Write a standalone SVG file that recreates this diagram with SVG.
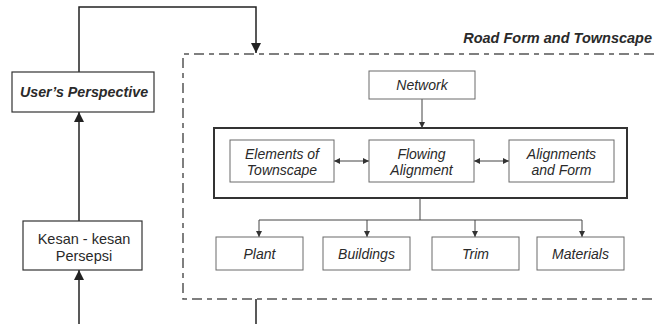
<svg xmlns="http://www.w3.org/2000/svg" width="654" height="324" viewBox="0 0 654 324">
<defs>
<marker id="big" viewBox="0 0 10 10" refX="10" refY="5" markerWidth="10" markerHeight="10" markerUnits="userSpaceOnUse" orient="auto"><path d="M0,0 L10,5 L0,10 z" fill="#222"/></marker>
<marker id="sm" viewBox="0 0 10 10" refX="10" refY="5" markerWidth="6" markerHeight="6" markerUnits="userSpaceOnUse" orient="auto-start-reverse"><path d="M0,0 L10,5 L0,10 z" fill="#333"/></marker>
</defs>
<style>
text{font-family:"Liberation Sans",Arial,sans-serif;fill:#2a2a2a;text-anchor:middle}
.it{font-style:italic;font-size:14px}
.box{fill:#fff;stroke:#6a6a6a;stroke-width:1}
.main{fill:#fff;stroke:#333;stroke-width:1.2}
.thick{fill:none;stroke:#333;stroke-width:2}
.dash{fill:none;stroke:#555;stroke-width:1.5;stroke-dasharray:10 5 5 5}
.big{fill:none;stroke:#222;stroke-width:1.5}
.thin{fill:none;stroke:#444;stroke-width:1}
</style>
<g id="frame">
<path class="dash" d="M654,54 H183 V299 H654"/>
<text x="652" y="43" style="font-weight:bold;font-style:italic;font-size:14.5px;text-anchor:end">Road Form and Townscape</text>
<rect class="thick" x="214" y="128" width="413" height="70"/>
</g>
<g id="connectors">
<path class="big" d="M79,72 V7 H256 V53" marker-end="url(#big)"/>
<path class="big" d="M79,221 V112" marker-end="url(#big)"/>
<path class="big" d="M79,324 V270" marker-end="url(#big)"/>
<path class="big" d="M256,299 V324"/>
<path class="thin" d="M422,99 V128" marker-end="url(#sm)"/>
<path class="thin" d="M334,161 H369" marker-start="url(#sm)" marker-end="url(#sm)"/>
<path class="thin" d="M474,161 H509" marker-start="url(#sm)" marker-end="url(#sm)"/>
<path class="thin" d="M420,198 V220"/>
<path class="thin" d="M259,220 H582"/>
<path class="thin" d="M259,220 V237" marker-end="url(#sm)"/>
<path class="thin" d="M367,220 V237" marker-end="url(#sm)"/>
<path class="thin" d="M475,220 V237" marker-end="url(#sm)"/>
<path class="thin" d="M582,220 V237" marker-end="url(#sm)"/>
</g>
<g id="users-perspective">
<rect class="main" x="12" y="72" width="142" height="40"/>
<text x="84" y="97" style="font-weight:bold;font-style:italic;font-size:14.3px">User’s Perspective</text>
</g>
<g id="kesan">
<rect class="main" x="23" y="221" width="119" height="49"/>
<text x="84" y="244" style="font-size:14.5px">Kesan - kesan</text>
<text x="84" y="261" style="font-size:14.5px">Persepsi</text>
</g>
<g id="network">
<rect class="box" x="369" y="71" width="106" height="28"/>
<text class="it" x="422" y="90">Network</text>
</g>
<g id="elements">
<rect class="box" x="230" y="140" width="104" height="42"/>
<text class="it" x="282" y="159">Elements of</text>
<text class="it" x="282" y="175">Townscape</text>
</g>
<g id="flowing">
<rect class="box" x="369" y="140" width="105" height="42"/>
<text class="it" x="421.5" y="159">Flowing</text>
<text class="it" x="421.5" y="175">Alignment</text>
</g>
<g id="alignments">
<rect class="box" x="509" y="140" width="105" height="42"/>
<text class="it" x="561.5" y="159">Alignments</text>
<text class="it" x="561.5" y="175">and Form</text>
</g>
<g id="plant">
<rect class="box" x="216" y="237" width="87" height="33"/>
<text class="it" x="259.5" y="259">Plant</text>
</g>
<g id="buildings">
<rect class="box" x="323" y="237" width="87" height="33"/>
<text class="it" x="366.5" y="259">Buildings</text>
</g>
<g id="trim">
<rect class="box" x="432" y="237" width="87" height="33"/>
<text class="it" x="475.5" y="259">Trim</text>
</g>
<g id="materials">
<rect class="box" x="537" y="237" width="87" height="33"/>
<text class="it" x="580.5" y="259">Materials</text>
</g>
</svg>
